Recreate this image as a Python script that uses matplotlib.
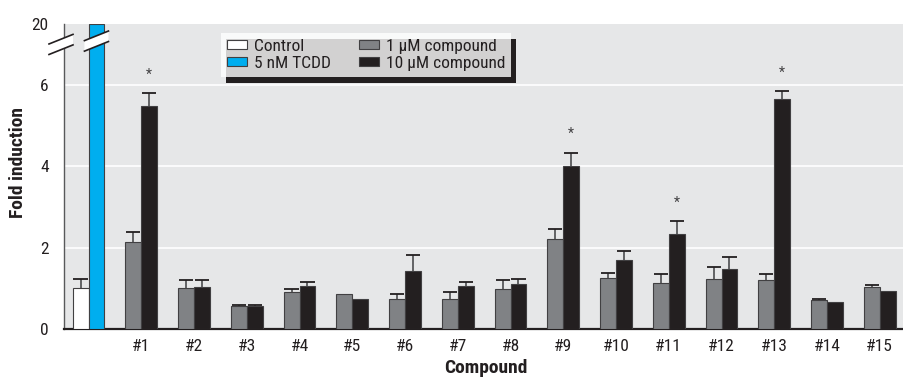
import numpy as np
import matplotlib
matplotlib.use("Agg")
import matplotlib.pyplot as plt
from matplotlib import font_manager
from matplotlib.patches import Patch, Polygon, Rectangle
from matplotlib.lines import Line2D
from matplotlib.transforms import IdentityTransform

# ---------------- data ----------------
compounds = ["#1", "#2", "#3", "#4", "#5", "#6", "#7", "#8", "#9", "#10",
             "#11", "#12", "#13", "#14", "#15"]
control_value = 1.02
control_err = 0.22
tcdd_value = 20.0
low_dose = [2.15, 1.02, 0.57, 0.92, 0.86, 0.75, 0.75, 0.98, 2.21, 1.26,
            1.14, 1.23, 1.20, 0.71, 1.03]
low_err = [0.24, 0.18, 0.02, 0.07, 0.0, 0.10, 0.15, 0.22, 0.24, 0.11,
           0.22, 0.29, 0.16, 0.04, 0.05]
high_dose = [5.48, 1.03, 0.56, 1.06, 0.74, 1.43, 1.06, 1.11, 4.02, 1.70,
             2.33, 1.48, 5.65, 0.66, 0.93]
high_err = [0.32, 0.17, 0.03, 0.10, 0.0, 0.38, 0.10, 0.13, 0.32, 0.21,
            0.33, 0.30, 0.21, 0.0, 0.0]
significant = ["#1", "#9", "#11", "#13"]
y_ticks = [0, 2, 4, 6, 20]
legend_labels = ["Control", "5 nM TCDD", "1 \u03bcM compound", "10 \u03bcM compound"]

# ---------------- fonts ----------------
available = {f.name for f in font_manager.fontManager.ttflist}
family = "DejaVu Sans"
for cand in ["Liberation Sans Narrow", "Roboto Condensed", "DejaVu Sans Condensed",
             "Open Sans Condensed", "Liberation Sans", "Roboto"]:
    if cand in available:
        family = cand
        break
plt.rcParams["font.family"] = [family, "DejaVu Sans"]

# ---------------- colours ----------------
c_white = "#ffffff"
c_blue = "#00aeef"
c_gray = "#808285"
c_black = "#231f20"
c_edge = "#414042"
c_bg = "#e6e7e8"
c_err = "#58595b"

# ---------------- broken scale ----------------
BRK = 7.0
def fwd(y):
    y = np.asarray(y, dtype=float)
    return np.where(y <= BRK, y, BRK + (y - BRK) * 0.5 / 13.0)
def inv(y):
    y = np.asarray(y, dtype=float)
    return np.where(y <= BRK, y, BRK + (y - BRK) * 13.0 / 0.5)

W, H = 904, 380
fig = plt.figure(figsize=(W / 100, H / 100), dpi=100)
ax = fig.add_axes([64 / W, (H - 329) / H, (903 - 64) / W, (329 - 24) / H])
ax.set_facecolor(c_bg)
ax.set_yscale("function", functions=(fwd, inv))
ax.set_ylim(0, 20)
ax.set_xlim(-0.465, 15.44)

w = 0.30
x = np.arange(1, len(compounds) + 1)
bkw = dict(edgecolor=c_edge, linewidth=0.8, zorder=3)
ax.bar(0 - w / 2, control_value, w, color=c_white, **bkw)
ax.bar(0 + w / 2, tcdd_value, w, color=c_blue, **bkw)
ax.bar(x - w / 2, low_dose, w, color=c_gray, **bkw)
ax.bar(x + w / 2, high_dose, w, color=c_black, **bkw)

def err_bars(xs, vals, errs):
    for xi, v, e in zip(xs, vals, errs):
        if e <= 0:
            continue
        ax.vlines(xi, v, v + e, color=c_err, lw=1.3, zorder=2.5)
        ax.hlines(v + e, xi - w * 0.45, xi + w * 0.45, color=c_black, lw=1.3, zorder=2.5)

err_bars([0 - w / 2], [control_value], [control_err])
err_bars(x - w / 2, low_dose, low_err)
err_bars(x + w / 2, high_dose, high_err)

for i, name in enumerate(compounds):
    if name in significant:
        ax.text(x[i] + w / 2, high_dose[i] + high_err[i] + 0.45, "*",
                ha="center", va="center", fontsize=10, color="#414042", zorder=4)

# grid
for g in [2, 4, 6]:
    ax.axhline(g, color="white", lw=1.2, zorder=1)

# axes styling
for s in ["top", "right"]:
    ax.spines[s].set_visible(False)
ax.spines["left"].set_color("#58595b")
ax.spines["left"].set_linewidth(1.0)
ax.spines["bottom"].set_color(c_black)
ax.spines["bottom"].set_linewidth(1.6)
ax.set_yticks(y_ticks)
ax.set_yticklabels([str(t) for t in y_ticks])
ax.yaxis.set_minor_locator(matplotlib.ticker.NullLocator())
ax.set_xticks(x)
ax.set_xticklabels(compounds)
ax.tick_params(axis="both", length=0, labelsize=12.5, colors=c_black)
ax.tick_params(axis="y", pad=11)
ax.tick_params(axis="x", pad=7)

fig.text(18 / W, 1 - 162 / H, "Fold induction", rotation=90, ha="center", va="center",
         fontsize=14, fontweight="bold", color=c_black)
fig.text(486 / W, 1 - 368 / H, "Compound", ha="center", va="center",
         fontsize=14, fontweight="bold", color=c_black)

# ---------------- break marks ----------------
def break_mark(cx, cy, half=12, slope=0.4, gap=10.5, lw=1.2):
    # display pixel coords (origin bottom-left)
    x0, x1 = cx - half, cx + half
    y_top0, y_top1 = cy + gap / 2 - slope * half, cy + gap / 2 + slope * half
    y_bot0, y_bot1 = cy - gap / 2 - slope * half, cy - gap / 2 + slope * half
    poly = Polygon([[x0, y_top0], [x1, y_top1], [x1, y_bot1], [x0, y_bot0]],
                   closed=True, facecolor="white", edgecolor="none",
                   transform=IdentityTransform(), zorder=10)
    fig.add_artist(poly)
    for (a, b) in [((x0, y_top0), (x1, y_top1)), ((x0, y_bot0), (x1, y_bot1))]:
        fig.add_artist(Line2D([a[0], b[0]], [a[1], b[1]], color=c_black, lw=lw,
                              transform=IdentityTransform(), zorder=11))

axis_x, _ = ax.transAxes.transform((0, 0))
_, axis_y = ax.transAxes.transform((0, 0.933))
break_mark(axis_x - 3, axis_y)
bar_x, _ = ax.transData.transform((0 + w / 2, 0))
_, bar_y = ax.transAxes.transform((0, 0.944))
break_mark(bar_x, bar_y)

# ---------------- legend ----------------
handles = [Patch(facecolor=c_white, edgecolor=c_edge, lw=0.8),
           Patch(facecolor=c_blue, edgecolor=c_edge, lw=0.8),
           Patch(facecolor=c_gray, edgecolor=c_edge, lw=0.8),
           Patch(facecolor=c_black, edgecolor=c_edge, lw=0.8)]
leg = fig.legend(handles, legend_labels, ncol=2, loc="upper left",
                 bbox_to_anchor=(221 / W, 1 - 33 / H), bbox_transform=fig.transFigure,
                 frameon=True, fancybox=False, fontsize=12.5, handlelength=1.15,
                 handleheight=0.42, handletextpad=0.4, columnspacing=1.6,
                 labelspacing=0.1, borderpad=0.35, borderaxespad=0)
leg.get_frame().set_facecolor("white")
leg.get_frame().set_edgecolor("none")
leg.get_frame().set_linewidth(0)
leg.set_zorder(20)
for t in leg.get_texts():
    t.set_color(c_black)

fig.canvas.draw()
bb = leg.get_window_extent()
shadow = Rectangle((bb.x0 + 5, bb.y0 - 6), bb.width, bb.height, facecolor=c_black,
                   edgecolor="none", transform=IdentityTransform(), zorder=19)
fig.add_artist(shadow)

fig.savefig("out.png", dpi=100)
